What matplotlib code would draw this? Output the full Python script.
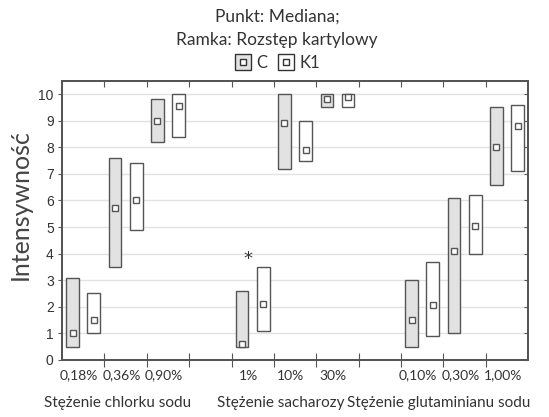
import numpy as np
import matplotlib
matplotlib.use("Agg")
import matplotlib.pyplot as plt
from matplotlib.lines import Line2D
from matplotlib.legend_handler import HandlerTuple

plt.rcParams['font.family'] = ['Lato', 'DejaVu Sans']

# grupy i stężenia
groups = ["Stężenie chlorku sodu", "Stężenie sacharozy", "Stężenie glutaminianu sodu"]
conc = [["0,18%", "0,36%", "0,90%"],
        ["1%", "10%", "30%"],
        ["0,10%", "0,30%", "1,00%"]]

# C: mediana, Q1, Q3
c_med = [1.0, 5.7, 9.0, 0.6, 8.9, 9.8, 1.5, 4.1, 8.0]
c_q1 = [0.5, 3.5, 8.2, 0.5, 7.2, 9.5, 0.5, 1.0, 6.6]
c_q3 = [3.1, 7.6, 9.8, 2.6, 10.0, 10.0, 3.0, 6.1, 9.5]

# K1: mediana, Q1, Q3
k_med = [1.5, 6.0, 9.55, 2.1, 7.9, 9.9, 2.05, 5.05, 8.8]
k_q1 = [1.0, 4.9, 8.4, 1.1, 7.5, 9.5, 0.9, 4.0, 7.1]
k_q3 = [2.5, 7.4, 10.0, 3.5, 9.0, 10.0, 3.7, 6.2, 9.6]

star_pos = (4.38, 3.78)

edge = '#555555'
txt = '#333333'
fill_c = '#e2e2e2'

# pozycje kategorii: 3 na grupę + 1 przerwa
slots = np.array([g * 4 + i for g in range(3) for i in range(3)], dtype=float)

fig = plt.figure(figsize=(5.49, 4.17), dpi=100)
ax = fig.add_axes([0.113, 0.137, 0.849, 0.669])

w = 0.3
ax.bar(slots + 0.25, np.array(c_q3) - np.array(c_q1), bottom=c_q1, width=w,
       color=fill_c, edgecolor=edge, linewidth=1.0, zorder=3)
ax.bar(slots + 0.75, np.array(k_q3) - np.array(k_q1), bottom=k_q1, width=w,
       color='white', edgecolor=edge, linewidth=1.0, zorder=3)
ax.plot(slots + 0.25, c_med, 's', ms=4.5, mfc='white', mec=edge, mew=1.0, zorder=4)
ax.plot(slots + 0.75, k_med, 's', ms=4.5, mfc='white', mec=edge, mew=1.0, zorder=4)

ax.text(star_pos[0], star_pos[1], '*', ha='center', va='center', fontsize=13,
        family='DejaVu Sans', color=txt)

ax.set_xlim(0, 11)
ax.set_ylim(0, 10.5)
ax.set_yticks(range(0, 11))
ax.yaxis.grid(True, color='#e2e2e2', linewidth=1.0)
ax.set_axisbelow(True)

# ticki główne między kategoriami, etykiety na tickach pomocniczych
ax.set_xticks(range(1, 11))
ax.set_xticklabels([])
ax.set_xticks(slots + 0.4, [c for g in conc for c in g], minor=True)
ax.tick_params(axis='x', which='major', direction='inout', length=10, color=edge)
ax.tick_params(axis='x', which='minor', length=0, pad=7, labelsize=10, labelcolor=txt)
ax.tick_params(axis='y', direction='out', length=3, color=edge, labelcolor=txt, pad=3)
for lab in ax.get_yticklabels():
    lab.set_fontfamily('Liberation Sans')
    lab.set_fontsize(10)

# ticki wewnętrzne na górze i po prawej
top = ax.twiny()
top.set_xlim(ax.get_xlim())
top.set_xticks(range(1, 11))
top.tick_params(axis='x', direction='in', length=4, color=edge, labeltop=False)
right = ax.twinx()
right.set_ylim(ax.get_ylim())
right.set_yticks(range(0, 11))
right.tick_params(axis='y', direction='in', length=3, color=edge, labelright=False)

for a in (ax, top, right):
    for s in a.spines.values():
        s.set_color(edge)
        s.set_linewidth(1.2)

ax.set_ylabel('Intensywność', fontsize=18, color='#444444')
ax.yaxis.set_label_coords(-0.064, 0.556)

group_x = [1.3, 5.15, 8.9]
for gx, name in zip(group_x, groups):
    ax.text(gx, -0.154, name, transform=ax.get_xaxis_transform(),
            ha='center', va='center', fontsize=11, color=txt)

fig.text(0.505, 0.959, 'Punkt: Mediana;', ha='center', va='center', fontsize=12.5, color=txt)
fig.text(0.505, 0.904, 'Ramka: Rozstęp kartylowy', ha='center', va='center', fontsize=12.5, color=txt)

h_c = (Line2D([], [], marker='s', ls='', ms=11, mfc=fill_c, mec='#333333', mew=1.0),
       Line2D([], [], marker='s', ls='', ms=4.5, mfc='white', mec='#333333', mew=1.0))
h_k = (Line2D([], [], marker='s', ls='', ms=11, mfc='white', mec='#333333', mew=1.0),
       Line2D([], [], marker='s', ls='', ms=4.5, mfc='white', mec='#333333', mew=1.0))
fig.legend([h_c, h_k], ['C', 'K1'], loc='center', bbox_to_anchor=(0.505, 0.849), ncol=2,
           frameon=False, handler_map={tuple: HandlerTuple(ndivide=1)},
           handlelength=1.0, handletextpad=0.3, columnspacing=0.6,
           prop={'size': 12}, labelcolor=txt)

fig.savefig('out.png', dpi=100)
